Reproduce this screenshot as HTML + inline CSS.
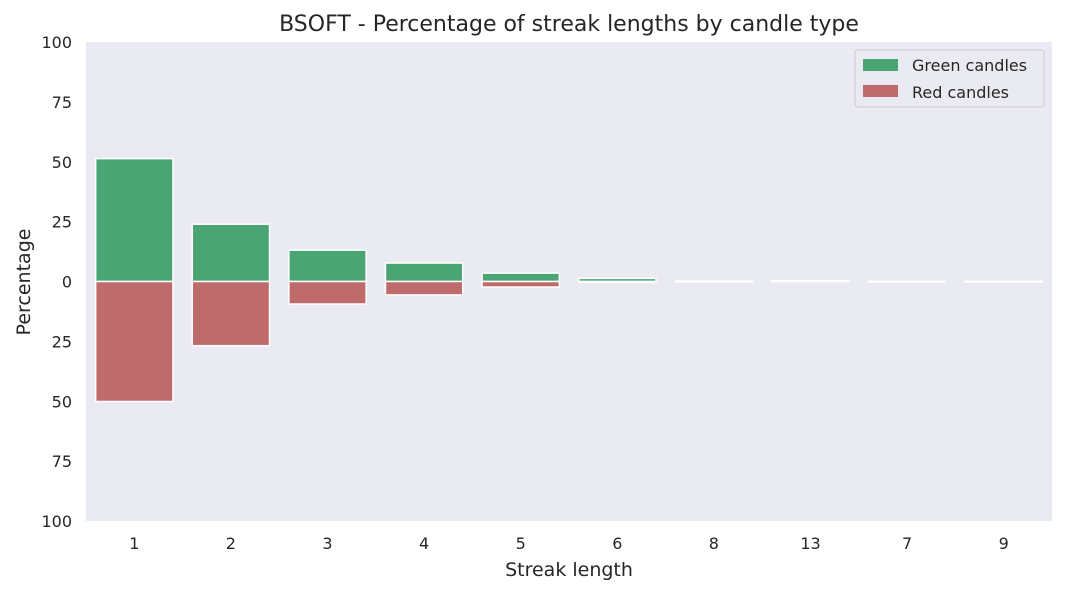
<!DOCTYPE html>
<html><head><meta charset="utf-8"><style>
body{margin:0;background:#fff;font-family:"Liberation Sans","DejaVu Sans",sans-serif}
</style></head><body>
<svg id="chart" width="1065" height="592" xmlns="http://www.w3.org/2000/svg" font-family="DejaVu Sans, Liberation Sans, sans-serif">
<rect x="86" y="42" width="966" height="479" fill="#eaeaf2"/>
<g id="bars"></g>
<g id="yticks"></g>
<g id="xticks"></g>
<text x="569" y="31" text-anchor="middle" font-size="22" fill="#262626">BSOFT - Percentage of streak lengths by candle type</text>
<text x="569" y="576" text-anchor="middle" font-size="19" fill="#262626">Streak length</text>
<text transform="translate(30,282) rotate(-90)" text-anchor="middle" font-size="19" fill="#262626">Percentage</text>
<g>
<rect x="855" y="50" width="189" height="57" rx="3" fill="#eaeaf2" stroke="#cccccc"/>
<rect x="863" y="59" width="35" height="12" fill="#4aa574"/>
<text x="912" y="71" font-size="16" fill="#262626">Green candles</text>
<rect x="863" y="85" width="35" height="12" fill="#bf6b6b"/>
<text x="912" y="98" font-size="16" fill="#262626">Red candles</text>
</g>
</svg>
<script>
const categories = ["1","2","3","4","5","6","8","13","7","9"];
const greenValues = [51.3,23.9,13.1,7.7,3.5,1.3,0.2,0.3,0.1,0.1];
const redValues = [50.1,26.8,9.4,5.6,2.3,0.3,0.2,0.0,0.2,0.2];
const yTickValues = [100,75,50,25,0,-25,-50,-75,-100];
const yTickLabels = ["100","75","50","25","0","25","50","75","100"];

const NS="http://www.w3.org/2000/svg";
const x0=86,x1=1052,yTop=42,yBot=521;
const band=(x1-x0)/categories.length;
function xCenter(i){return x0+band*(i+0.5);}
function yScale(v){return yTop+(100-v)/200*(yBot-yTop);}
const bars=document.getElementById('bars');
function mk(tag,attrs){const e=document.createElementNS(NS,tag);for(const k in attrs)e.setAttribute(k,attrs[k]);return e;}
const bw=band*0.8;
categories.forEach((c,i)=>{
  const g=greenValues[i],r=redValues[i];
  const y0=yScale(0);
  const gb=mk('rect',{x:xCenter(i)-bw/2,y:yScale(g),width:bw,height:Math.max(y0-yScale(g),0),fill:'#4aa574',stroke:'#fff','stroke-width':1.5});
  
  
  bars.appendChild(gb);
  const rb=mk('rect',{x:xCenter(i)-bw/2,y:y0,width:bw,height:Math.max(yScale(-r)-y0,0),fill:'#bf6b6b',stroke:'#fff','stroke-width':1.5});
  
  
  bars.appendChild(rb);
  const t=mk('text',{x:xCenter(i),y:549,'text-anchor':'middle','font-size':16,fill:'#262626'});
  t.textContent=c;
  
  
  document.getElementById('xticks').appendChild(t);
});
yTickValues.forEach((v,i)=>{
  const t=mk('text',{x:72,y:yScale(v)+6,'text-anchor':'end','font-size':16,fill:'#262626'});
  t.textContent=yTickLabels[i];
  
  
  document.getElementById('yticks').appendChild(t);
});
</script>
</body></html>
